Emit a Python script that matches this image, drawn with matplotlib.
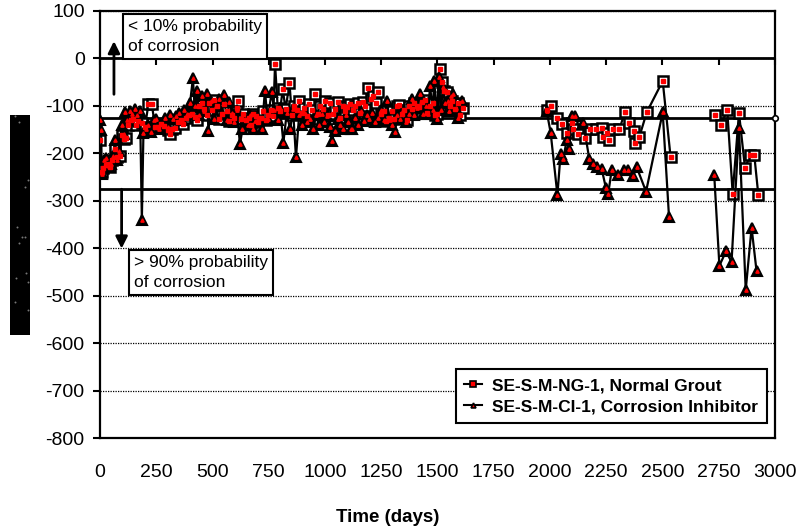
import numpy as np
import matplotlib
matplotlib.use("Agg")
import matplotlib.pyplot as plt
from matplotlib.lines import Line2D

plt.rcParams['font.family'] = ['Liberation Sans', 'DejaVu Sans']
plt.rcParams['axes.unicode_minus'] = False

# SE-S-M-NG-1, Normal Grout  (days, mV)
ng_days_1 = [0, 7, 15, 25, 35, 44, 55, 66, 77, 88,
             96, 105, 115, 126, 137, 148, 159, 170, 185, 200,
             215, 230, 245, 258, 270, 285, 300, 311, 322, 333,
             345, 358, 370, 382, 395, 408, 420, 430, 441, 452,
             463, 475, 486, 497, 508, 520, 530, 541, 552, 563,
             575, 586, 597, 608, 615, 626, 637, 648, 660, 671,
             682, 693, 704, 715, 726, 737, 748, 760, 770, 778,
             790, 800, 812, 825, 842, 853, 864, 875, 886, 897,
             908, 920, 931, 942, 956, 967, 978, 990, 1000, 1012,
             1022, 1034, 1045, 1056, 1067, 1078, 1090, 1100, 1112, 1123,
             1135, 1146, 1157, 1168, 1180, 1192, 1205, 1215, 1225, 1237,
             1250, 1262, 1273, 1284, 1296, 1307, 1318, 1330, 1341, 1352,
             1363, 1375, 1386, 1397, 1410, 1420, 1432, 1443, 1455, 1466,
             1478, 1490, 1500, 1511, 1520, 1530, 1543, 1555, 1566, 1578,
             1590, 1600, 1613]
ng_mv_1 = [-172, -240, -232, -225, -222, -230, -215, -192, -208, -205,
           -162, -170, -168, -140, -130, -128, -140, -132, -136, -145,
           -97, -97, -144, -145, -138, -143, -152, -160, -150, -146,
           -135, -130, -138, -125, -120, -118, -124, -130, -100, -95,
           -108, -120, -95, -110, -88, -100, -128, -118, -96, -112,
           -132, -120, -125, -105, -90, -128, -118, -130, -125, -140,
           -118, -122, -135, -126, -112, -130, -120, -110, -122, -12,
           -105, -112, -65, -108, -52, -120, -100, -110, -90, -115,
           -104, -122, -96, -110, -76, -118, -100, -108, -90, -120,
           -95, -118, -108, -92, -125, -100, -112, -103, -96, -110,
           -100, -94, -115, -92, -100, -62, -85, -80, -95, -72,
           -118, -112, -132, -125, -112, -128, -100, -98, -118, -110,
           -130, -100, -108, -95, -100, -102, -92, -88, -115, -100,
           -95, -120, -118, -22, -50, -70, -72, -100, -90, -108,
           -95, -120, -105]
ng_days_2 = [1985, 2003, 2030, 2052, 2074, 2096, 2104, 2126, 2156, 2178,
             2205, 2230, 2237, 2255, 2264, 2281, 2308, 2333, 2353, 2373,
             2378, 2397, 2430, 2501, 2536]
ng_mv_2 = [-110, -101, -126, -139, -157, -136, -150, -160, -168, -150,
           -150, -146, -166, -157, -173, -150, -150, -114, -136, -153,
           -178, -166, -114, -48, -208]
ng_days_3 = [2733, 2759, 2788, 2812, 2840, 2867, 2889, 2908, 2926]
ng_mv_3 = [-120, -140, -110, -285, -115, -232, -204, -204, -288]

# SE-S-M-CI-1, Corrosion Inhibitor  (days, mV)
ci_days_1 = [0, 5, 8, 18, 28, 38, 48, 58, 67, 75,
             85, 96, 105, 111, 122, 133, 144, 155, 166, 178,
             186, 193, 205, 215, 226, 238, 250, 262, 275, 288,
             300, 312, 325, 338, 350, 363, 375, 388, 400, 413,
             420, 430, 440, 452, 463, 475, 482, 493, 505, 517,
             528, 540, 551, 563, 575, 586, 597, 608, 622, 633,
             645, 656, 668, 680, 691, 702, 719, 733, 745, 763,
             775, 790, 800, 815, 830, 845, 858, 871, 885, 897,
             910, 922, 935, 948, 960, 972, 985, 997, 1010, 1022,
             1030, 1044, 1056, 1068, 1081, 1093, 1104, 1116, 1122, 1135,
             1148, 1160, 1172, 1185, 1197, 1210, 1222, 1235, 1248, 1262,
             1274, 1290, 1300, 1311, 1322, 1335, 1348, 1360, 1372, 1385,
             1397, 1410, 1422, 1435, 1447, 1458, 1467, 1478, 1486, 1496,
             1505, 1515, 1525, 1535, 1545, 1553, 1562, 1570, 1582, 1593,
             1607]
ci_mv_1 = [-130, -152, -244, -215, -210, -228, -222, -205, -172, -215,
           -195, -140, -160, -114, -130, -112, -118, -108, -120, -112,
           -340, -157, -150, -140, -155, -130, -128, -150, -138, -126,
           -145, -120, -128, -122, -115, -130, -110, -118, -95, -42,
           -100, -70, -120, -80, -112, -75, -153, -90, -128, -100,
           -85, -118, -78, -130, -92, -115, -135, -110, -181, -150,
           -128, -140, -120, -150, -132, -125, -150, -69, -128, -72,
           -110, -130, -105, -178, -115, -150, -108, -209, -120, -140,
           -115, -135, -128, -150, -120, -140, -118, -135, -122, -145,
           -174, -153, -128, -140, -150, -120, -135, -150, -150, -125,
           -140, -112, -132, -120, -128, -115, -135, -125, -110, -130,
           -91, -130, -140, -155, -120, -128, -110, -135, -118, -86,
           -120, -105, -76, -118, -100, -118, -58, -110, -48, -128,
           -40, -110, -60, -95, -90, -111, -80, -76, -105, -125,
           -90]
ci_days_2 = [1985, 2003, 2033, 2047, 2059, 2074, 2086, 2096, 2111, 2148,
             2175, 2190, 2210, 2230, 2249, 2259, 2274, 2304, 2329, 2348,
             2370, 2385, 2427, 2501, 2529]
ci_mv_2 = [-111, -157, -288, -202, -213, -173, -192, -122, -122, -136,
           -213, -222, -229, -234, -274, -285, -236, -246, -236, -236,
           -248, -229, -281, -114, -334]
ci_days_3 = [2730, 2753, 2782, 2807, 2840, 2870, 2896, 2918]
ci_mv_3 = [-246, -437, -407, -429, -147, -488, -357, -448]

# ASTM C876 limits (vs SCE)
limits = [-126, -276]
x_ticks = list(range(0, 3001, 250))
y_ticks = list(range(-800, 101, 100))


def join(*segs):
    # nan between segments so the line breaks at gaps in the record
    xs, ys = [], []
    for d, v in segs:
        if xs:
            xs.append(np.nan)
            ys.append(np.nan)
        xs += d
        ys += v
    return np.array(xs, float), np.array(ys, float)


ng_x, ng_y = join((ng_days_1, ng_mv_1), (ng_days_2, ng_mv_2), (ng_days_3, ng_mv_3))
ci_x, ci_y = join((ci_days_1, ci_mv_1), (ci_days_2, ci_mv_2), (ci_days_3, ci_mv_3))

fig = plt.figure(figsize=(8.02, 5.31), dpi=100)
ax = fig.add_axes([0.1247, 0.1751, 0.8416, 0.8047])

ax.set_xlim(0, 3000)
ax.set_ylim(-800, 100)
ax.set_xticks(x_ticks)
ax.set_yticks(y_ticks)
ax.tick_params(axis='x', length=0, pad=19, labelsize=14)
ax.tick_params(axis='y', direction='out', length=5, width=1.5, pad=6, labelsize=14)
for s in ax.spines.values():
    s.set_linewidth(1.6)
    s.set_color('black')
ax.grid(axis='y', linestyle=(0, (1, 1)), linewidth=0.9, color='black')

# zero line acts as the x axis, ticks hang below it
ax.axhline(0, color='black', lw=2)
ax.plot(x_ticks, np.zeros(len(x_ticks)), linestyle='none', marker=3,
        ms=5, mew=1.5, color='black', clip_on=False)
for lim in limits:
    ax.axhline(lim, color='black', lw=2)
ax.plot([3000], [limits[0]], 'o', ms=4, mfc='white', mec='black', mew=1.2,
        clip_on=False, zorder=5)

# series
ax.plot(ng_x, ng_y, color='black', lw=1.6, marker='s', ms=7,
        mfc='white', mec='black', mew=1.8, zorder=3)
ax.plot(ng_x, ng_y, linestyle='none', marker='s', ms=3.2, color='red',
        zorder=4)
ax.plot(ci_x, ci_y, color='black', lw=1.6, marker='^', ms=7,
        mfc='black', mec='black', mew=1.5, zorder=3)
ax.plot(ci_x, ci_y, linestyle='none', marker='^', ms=2.4, color='red',
        zorder=4)

# probability notes
box = dict(boxstyle='square,pad=0.3', fc='white', ec='black', lw=1.5)
ax.text(124, 83, "< 10% probability\nof corrosion", fontsize=12.5,
        ha='left', va='top', bbox=box, linespacing=1.45, zorder=6)
ax.text(151, -414, "> 90% probability\nof corrosion", fontsize=12.5,
        ha='left', va='top', bbox=box, linespacing=1.45, zorder=6)
arrow = dict(arrowstyle='-|>,head_length=0.5,head_width=0.25', color='black',
             lw=2, shrinkA=0, shrinkB=0, mutation_scale=14)
ax.annotate('', xy=(62, 36), xytext=(62, -76), arrowprops=arrow, zorder=6)
ax.annotate('', xy=(96, -401), xytext=(96, -276), arrowprops=arrow, zorder=6)

handles = [
    Line2D([0], [0], color='black', lw=1.5, marker='s', ms=4,
           mfc='red', mec='black', mew=1.2),
    Line2D([0], [0], color='black', lw=1.5, marker='^', ms=3.5,
           mfc='red', mec='black', mew=1.2),
]
leg = ax.legend(handles, ["SE-S-M-NG-1, Normal Grout",
                          "SE-S-M-CI-1, Corrosion Inhibitor"],
                loc='lower right', bbox_to_anchor=(0.988, 0.035),
                borderaxespad=0, fancybox=False, framealpha=1,
                edgecolor='black', handlelength=1.0, handletextpad=0.6,
                labelspacing=0.35, borderpad=0.5,
                prop={'weight': 'bold', 'size': 12.5})
leg.get_frame().set_linewidth(1.5)
leg.set_zorder(7)

fig.text(388 / 802, 1 - 517 / 531, "Time (days)", fontsize=13.5,
         fontweight='bold', ha='center', va='center')

# dark strip left of the axis labels (scanned y label)
strip = fig.add_axes([10 / 802, 1 - 335 / 531, 20 / 802, 220 / 531])
strip.set_facecolor('black')
strip.set_xlim(10, 30)
strip.set_ylim(335, 115)
strip.set_xticks([])
strip.set_yticks([])
for s in strip.spines.values():
    s.set_visible(False)
speck_x = [15, 19, 25, 28, 17, 22, 25, 19, 26, 16, 28, 15, 28]
speck_y = [116, 122, 187, 180, 227, 237, 237, 243, 273, 278, 282, 302, 310]
strip.scatter(speck_x, speck_y, s=2, color='#777777', linewidths=0)

fig.savefig("out.png", dpi=100)
